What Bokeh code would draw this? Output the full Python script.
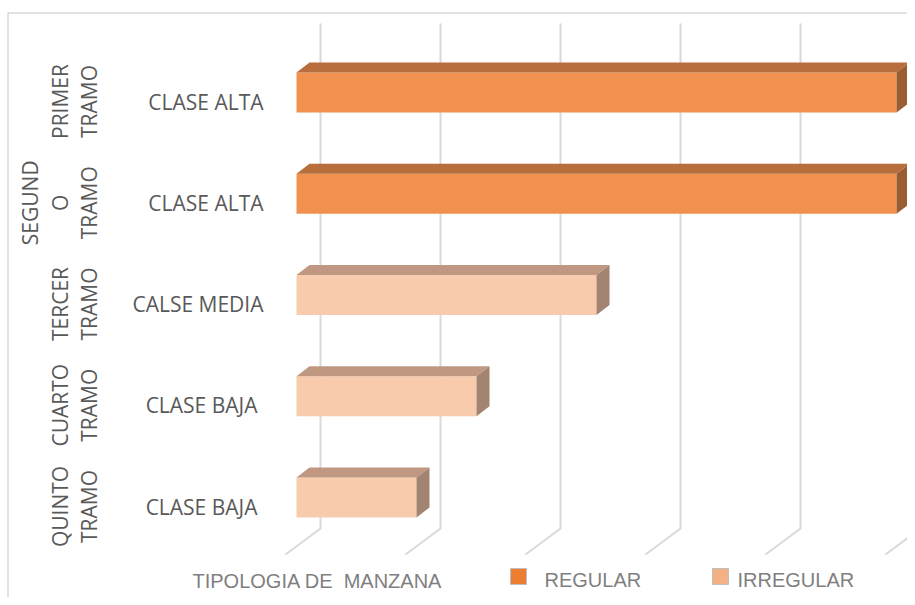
from bokeh.plotting import figure
from bokeh.models import Range1d
from bokeh.core.properties import value
from bokeh.embed import file_html
from bokeh.resources import INLINE

# ---- data ----
tramos = [["PRIMER", "TRAMO"], ["SEGUND", "O", "TRAMO"], ["TERCER", "TRAMO"],
          ["CUARTO", "TRAMO"], ["QUINTO", "TRAMO"]]
clases = ["CLASE ALTA", "CLASE ALTA", "CALSE MEDIA", "CLASE BAJA", "CLASE BAJA"]
tipologia = ["REGULAR", "REGULAR", "IRREGULAR", "IRREGULAR", "IRREGULAR"]
valores = [5, 5, 2.5, 1.5, 1]
grid_ticks = [0, 1, 2, 3, 4, 5]
series_names = ["REGULAR", "IRREGULAR"]
axis_title = "TIPOLOGIA DE\u00a0 MANZANA"

# ---- styling ----
front_col = {"REGULAR": "#F09150", "IRREGULAR": "#F8CBAD"}
top_col = {"REGULAR": "#B86E3C", "IRREGULAR": "#C09882"}
side_col = {"REGULAR": "#9A5C31", "IRREGULAR": "#A38470"}
legend_col = {"REGULAR": "#ED7D31", "IRREGULAR": "#F4B183"}
GRID = "#D9D9D9"
LABEL = "#595959"
GRAYTXT = "#7F7F7F"

W, H = 907, 597
UX, UY = 120.0, 101.25
Y0 = 0.01235


def X(px):  # picture px -> data x
    return (px - 296) / UX


def Y(py):  # picture py -> data y
    return Y0 + (597 - py) / UY


p = figure(width=W, height=H, output_backend="svg", toolbar_location=None,
           x_range=Range1d(X(0), X(W)), y_range=Range1d(Y(H), Y(0)),
           min_border=0)
p.axis.visible = False
p.grid.visible = False
p.outline_line_color = None
p.background_fill_color = "white"

# chart border
p.line([X(7.5), X(7.5), X(1000)], [Y(700), Y(12.5), Y(12.5)], line_color=GRID, line_width=1.5)

# back-wall gridlines + floor slants
gx = 24 / UX
fx = -11 / UX
for t in grid_ticks:
    p.line([t + gx, t + gx, t + fx], [Y(23), Y(528), Y(554)], line_color=GRID, line_width=2)

# bars (3D)
n = len(valores)
ys = [n - i for i in range(n)]
h = 40 / UY
ddx, ddy = 13 / UX, 10 / UY
for yc, v, s in zip(ys, valores, tipologia):
    p.hbar(y=[yc], left=[0], right=[v], height=h, fill_color=front_col[s], line_color=None)
    top = yc + h / 2
    bot = yc - h / 2
    p.patch([0, v, v + ddx, ddx], [top, top, top + ddy, top + ddy],
            fill_color=top_col[s], line_color=None)
    p.patch([v, v, v + ddx, v + ddx], [bot, top, top + ddy, bot + ddy],
            fill_color=side_col[s], line_color=None)

# inner category labels
label_right_px = [263, 263, 263, 257, 257]
p.text(x=[X(r) for r in label_right_px], y=[yc - 9 / UY for yc in ys], text=clases,
       text_align="right", text_baseline="middle",
       text_font=value("Open Sans"), text_font_size="21px", text_color=LABEL)

# group labels (rotated)
line_x = {3: [29, 59, 88], 2: [59, 88]}
gx_list, gy_list, gt_list = [], [], []
for yc, lines in zip(ys, tramos):
    for xx, tt in zip(line_x[len(lines)], lines):
        gx_list.append(X(xx))
        gy_list.append(yc - 9 / UY)
        gt_list.append(tt)
p.text(x=gx_list, y=gy_list, text=gt_list, angle=1.5707963, text_align="center",
       text_baseline="middle", text_font=value("Open Sans"), text_font_size="21px",
       text_color=LABEL)

# axis title
p.text(x=[X(192)], y=[Y(580)], text=[axis_title], text_align="left", text_baseline="middle",
       text_font=value("Liberation Sans"), text_font_size="20px", text_color=GRAYTXT)

# legend
leg_sq_x = [518, 720]
leg_tx_x = [544, 737]
for name, sx, tx in zip(series_names, leg_sq_x, leg_tx_x):
    p.scatter(x=[X(sx)], y=[Y(576)], marker="square", size=16,
              fill_color=legend_col[name], line_color="#BFBFBF", line_width=1)
    p.text(x=[X(tx)], y=[Y(579)], text=[name], text_align="left", text_baseline="middle",
           text_font=value("Liberation Sans"), text_font_size="20px", text_color=GRAYTXT)

open("out.html", "w").write(file_html(p, INLINE))
